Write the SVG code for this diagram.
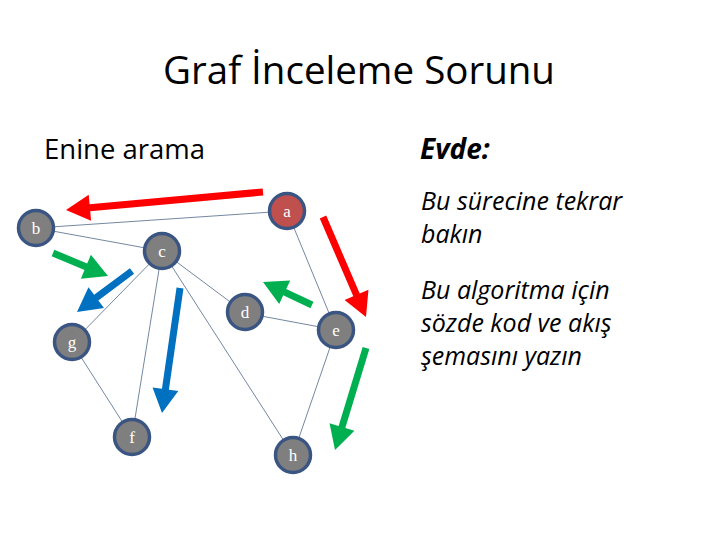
<svg xmlns="http://www.w3.org/2000/svg" width="720" height="540" viewBox="0 0 720 540">
<style>
.t{font-family:"Open Sans","Noto Sans",sans-serif;fill:#000}
.n{fill:#7f7f7f;stroke:#3b5583;stroke-width:3.5}
.lbl{font-family:"Liberation Serif",serif;font-size:17px;fill:#fff;text-anchor:middle}
.e{stroke:#50688a;stroke-width:0.8;fill:none}
.red{fill:#ff0000}.grn{fill:#00b050}.blu{fill:#0070c0}
</style>
<rect width="720" height="540" fill="#fff"/>
<text class="t" x="359" y="84" font-size="38.5" text-anchor="middle">Graf İnceleme Sorunu</text>
<text class="t" x="44" y="159" font-size="27.5">Enine arama</text>
<text class="t" x="420" y="159" font-size="28" font-weight="bold" font-style="italic">Evde:</text>
<g class="t" font-size="25" font-style="italic">
<text x="421" y="210">Bu sürecine tekrar</text>
<text x="421" y="243">bakın</text>
<text x="421" y="299">Bu algoritma için</text>
<text x="421" y="332">sözde kod ve akış</text>
<text x="421" y="365">şemasını yazın</text>
</g>
<g id="connectors">
<line class="e" x1="287" y1="211" x2="36" y2="228"/>
<line class="e" x1="36" y1="228" x2="162" y2="251"/>
<line class="e" x1="287" y1="211" x2="336" y2="330"/>
<line class="e" x1="162" y1="251" x2="72" y2="343"/>
<line class="e" x1="162" y1="251" x2="132" y2="437"/>
<line class="e" x1="162" y1="251" x2="245" y2="313"/>
<line class="e" x1="162" y1="251" x2="293" y2="455"/>
<line class="e" x1="245" y1="313" x2="336" y2="330"/>
<line class="e" x1="336" y1="330" x2="293" y2="455"/>
<line class="e" x1="72" y1="343" x2="132" y2="437"/>
</g>
<g id="arrows">
<polygon class="red" points="262.68,188.51 89.58,204.33 88.72,194.87 66,210 91.08,220.77 90.22,211.31 263.32,195.49"/>
<polygon class="red" points="319.78,218.38 353.31,296.33 344.58,300.09 366,317 368.46,289.82 359.74,293.57 326.22,215.62"/>
<polygon class="grn" points="51.65,256.23 84.51,269.97 80.85,278.73 108,276 90.88,254.75 87.21,263.51 54.35,249.77"/>
<polygon class="blu" points="129.91,268.19 94.15,294.85 88.47,287.24 77,312 104.01,308.08 98.33,300.47 134.09,273.81"/>
<polygon class="blu" points="176.54,287.50 161.96,388.75 152.55,387.40 162,413 178.29,391.10 168.88,389.75 183.46,288.50"/>
<polygon class="grn" points="313.49,301.83 286.21,289.03 290.24,280.43 263,282 279.20,303.97 283.23,295.37 310.51,308.17"/>
<polygon class="grn" points="362.65,346.98 338.63,426.02 329.54,423.26 335,450 354.42,430.82 345.33,428.06 369.35,349.02"/>
</g>
<g id="node-a"><circle class="n" cx="287" cy="211" r="17.5" style="fill:#c0504d"/><text class="lbl" x="287" y="217">a</text></g>
<g id="node-b"><circle class="n" cx="36" cy="228" r="17.5"/><text class="lbl" x="36" y="234">b</text></g>
<g id="node-c"><circle class="n" cx="162" cy="251" r="17.5"/><text class="lbl" x="162" y="257">c</text></g>
<g id="node-d"><circle class="n" cx="245" cy="312" r="17.5"/><text class="lbl" x="245" y="318">d</text></g>
<g id="node-e"><circle class="n" cx="336" cy="330" r="17.5"/><text class="lbl" x="336" y="336">e</text></g>
<g id="node-g"><circle class="n" cx="72" cy="342" r="17.5"/><text class="lbl" x="72" y="348">g</text></g>
<g id="node-f"><circle class="n" cx="132" cy="437" r="17.5"/><text class="lbl" x="132" y="443">f</text></g>
<g id="node-h"><circle class="n" cx="293" cy="455" r="17.5"/><text class="lbl" x="293" y="461">h</text></g>
</svg>
